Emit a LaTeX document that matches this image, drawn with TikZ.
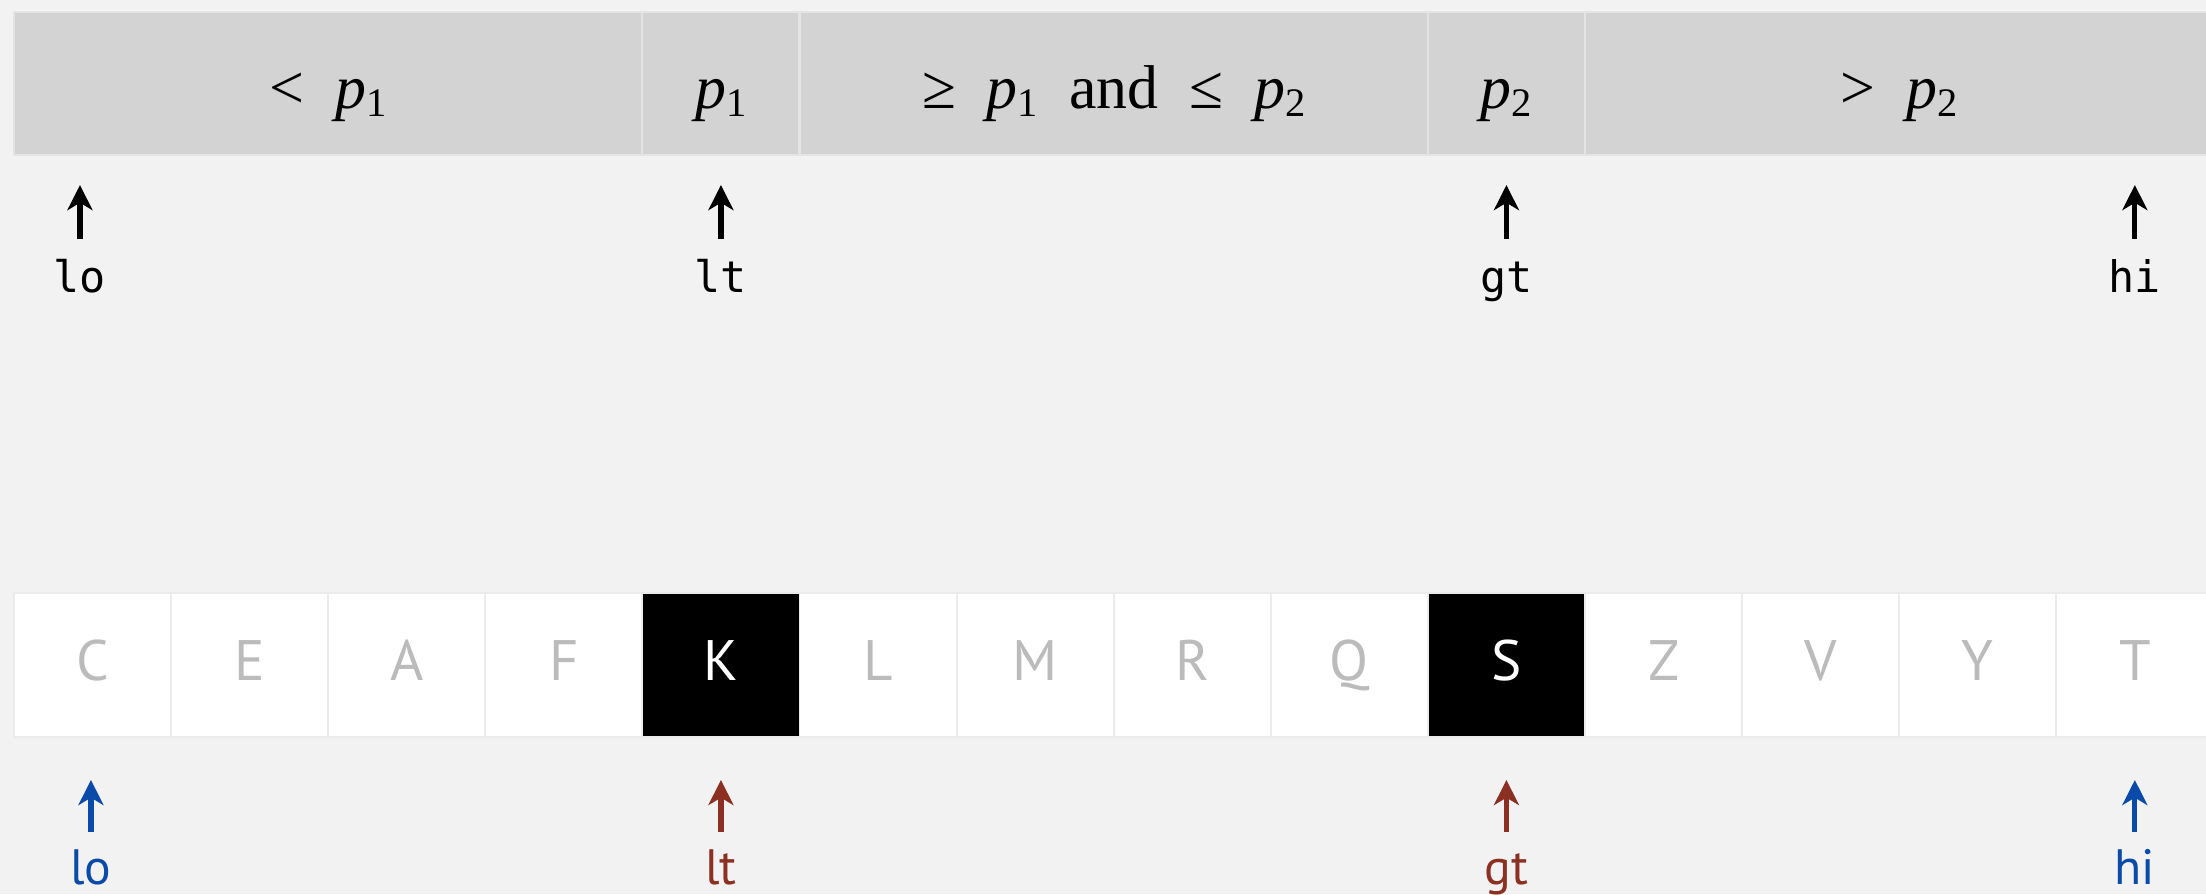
\documentclass[tikz,border=0pt]{standalone}
\usepackage{fontspec}
\setmainfont{Liberation Serif}
\newfontfamily\keyfont{PT Sans}
\newfontfamily\codefont{DejaVu Sans Mono}
\usepackage{xcolor}
\usepackage{tikz}
\usetikzlibrary{arrows.meta,positioning}
\definecolor{bg}{HTML}{F2F2F2}
\definecolor{band}{HTML}{D3D3D3}
\definecolor{bandln}{HTML}{E4E4E4}
\definecolor{cellln}{HTML}{EBEBEB}
\definecolor{keygray}{HTML}{BBBBBB}
\definecolor{bnd}{HTML}{0A4BAA}
\definecolor{ptr}{HTML}{8B3022}
\newcommand{\pv}[1]{\textit{p}\raisebox{-0.3ex}{\fontsize{11}{11}\selectfont #1}}
\newcommand{\gap}{\hspace{0.5em}}

\begin{document}
\begin{tikzpicture}[x=1.5cm,y=1.5cm,
  seg/.style={draw=bandln,fill=band,line width=0.6pt,minimum height=1.37cm,inner sep=0pt,
    text height=13.4pt,text depth=0pt,font=\fontsize{16.8}{16.8}\selectfont},
  cell/.style={draw=cellln,fill=white,line width=0.5pt,minimum width=1.5cm,minimum height=1.37cm,
    inner sep=0pt,text=keygray,text height=10.6pt,text depth=2.2pt,font=\keyfont\fontsize{15.5}{15.5}\selectfont},
  pivot/.style={cell,fill=black,text=white},
  lab/.style={inner sep=0pt,outer sep=0pt,text height=14.4pt,anchor=base},
  arr/.style={-{Stealth[length=6.8pt,width=6.8pt,inset=2pt]},line width=1.4pt}]
\fill[bg] (0,0) rectangle (14.042,-5.691);
\useasboundingbox (0,0) rectangle (14.042,-5.691);
% partitioned ranges
\node[seg,minimum width=6cm] (s1) at (2.089,-0.531) {<\gap\pv{1}};
\node[seg,minimum width=1.5cm] (s2) at (4.589,-0.531) {\pv{1}};
\node[seg,minimum width=6cm] (s3) at (7.089,-0.531) {≥\gap\pv{1}\gap and\gap ≤\gap\pv{2}};
\node[seg,minimum width=1.5cm] (s4) at (9.589,-0.531) {\pv{2}};
\node[seg,minimum width=6cm] (s5) at (12.089,-0.531) {>\gap\pv{2}};
\foreach \nm/\x/\t in {tlo/0.509/lo, tlt/4.589/lt, tgt/9.589/gt, thi/13.589/hi}{
  \node[lab,font=\codefont\fontsize{11.8}{11.8}\selectfont] (\nm) at (\x,-1.859) {\t};
  \coordinate (\nm-tip) at (\x,-1.178);
  \draw[arr] (\nm) -- (\nm-tip);
}
% array after partitioning
\foreach \k/\st [count=\i from 0] in {C/cell,E/cell,A/cell,F/cell,K/pivot,L/cell,M/cell,
    R/cell,Q/cell,S/pivot,Z/cell,V/cell,Y/cell,T/cell}{
  \node[\st] (c\i) at ({0.589+\i},-4.233) {\k};
}
\foreach \nm/\x/\t/\cl in {blo/0.579/lo/bnd, blt/4.589/lt/ptr, bgt/9.589/gt/ptr, bhi/13.589/hi/bnd}{
  \node[lab,text=\cl,font=\keyfont\fontsize{13.5}{13.5}\selectfont] (\nm) at (\x,-5.633) {\t};
  \coordinate (\nm-tip) at (\x,-4.965);
  \draw[arr,\cl] (\nm) -- (\nm-tip);
}
\end{tikzpicture}
\end{document}
